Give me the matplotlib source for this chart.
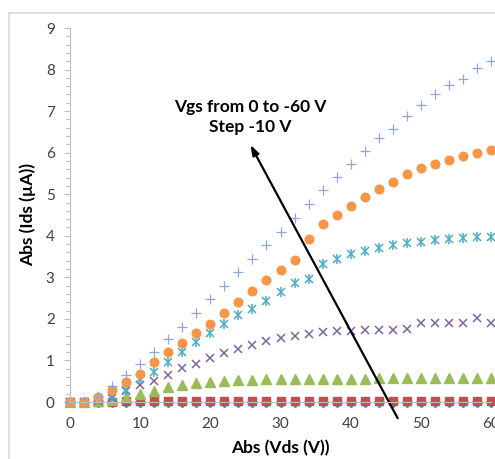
import numpy as np
import matplotlib
matplotlib.use('Agg')
import matplotlib.pyplot as plt
from matplotlib.lines import Line2D
from matplotlib.ticker import MultipleLocator

plt.rcParams['font.family'] = ['Lato', 'DejaVu Sans']

vds = np.arange(0, 61, 2)  # |Vds| in V

# |Ids| in uA, one list per gate voltage
ids_0 = [0.0] * 31
ids_10 = [0, 0, 0, 0.01, 0.02, 0.02, 0.02, 0.02, 0.02, 0.02, 0.02, 0.02, 0.02, 0.02, 0.02, 0.02,
          0.02, 0.02, 0.02, 0.02, 0.02, 0.02, 0.02, 0.02, 0.03, 0.03, 0.03, 0.03, 0.03, 0.03, 0.03]
ids_20 = [0, 0, 0.02, 0.05, 0.11, 0.20, 0.27, 0.37, 0.41, 0.45, 0.49, 0.51, 0.53, 0.54, 0.55, 0.55,
          0.55, 0.56, 0.56, 0.56, 0.56, 0.56, 0.57, 0.57, 0.57, 0.57, 0.57, 0.58, 0.58, 0.58, 0.58]
ids_30 = [0, 0, 0.02, 0.10, 0.27, 0.41, 0.51, 0.65, 0.81, 0.91, 1.07, 1.17, 1.28, 1.37, 1.47, 1.55,
          1.60, 1.64, 1.68, 1.70, 1.72, 1.74, 1.74, 1.74, 1.75, 1.89, 1.89, 1.89, 1.89, 2.01, 1.89]
ids_40 = [0, 0, 0.05, 0.15, 0.30, 0.55, 0.73, 0.96, 1.20, 1.45, 1.65, 1.88, 2.09, 2.24, 2.43, 2.65,
          2.87, 2.96, 3.31, 3.43, 3.55, 3.63, 3.70, 3.78, 3.82, 3.86, 3.90, 3.92, 3.94, 3.98, 3.98]
ids_50 = [0, 0, 0.12, 0.29, 0.47, 0.67, 0.97, 1.21, 1.43, 1.65, 1.88, 2.13, 2.41, 2.66, 2.93, 3.17,
          3.42, 3.92, 4.28, 4.49, 4.72, 4.93, 5.12, 5.30, 5.48, 5.62, 5.73, 5.82, 5.91, 5.98, 6.06]
ids_60 = [0, 0, 0.15, 0.38, 0.65, 0.91, 1.20, 1.52, 1.81, 2.13, 2.47, 2.79, 3.12, 3.45, 3.78, 4.09,
          4.42, 4.76, 5.09, 5.42, 5.73, 6.05, 6.35, 6.57, 6.88, 7.14, 7.40, 7.62, 7.78, 8.04, 8.21]

fig = plt.figure(figsize=(4.95, 4.59), dpi=100)
ax = fig.add_axes([70 / 495, 57 / 459, 421 / 495, 374 / 459])

kw = dict(ls='none', clip_on=False)
ax.plot(vds, ids_0, marker='D', ms=5, color='#4f81bd', **kw)
ax.plot(vds, ids_10, marker='s', ms=5.5, color='#c0504d', **kw)
ax.plot(vds, ids_20, marker='^', ms=6.5, color='#9bbb59', **kw)
ax.plot(vds, ids_30, marker='x', ms=6, mew=1.1, color='#8064a2', **kw)
ax.plot(vds, ids_40, marker='x', ms=6, mew=1.1, color='#4bacc6', **kw)
ax.plot(vds, ids_40, marker='|', ms=7.5, mew=1.1, color='#4bacc6', **kw)
ax.plot(vds, ids_50, marker='o', ms=6.2, color='#f79646', **kw)
ax.plot(vds, ids_60, marker='+', ms=6.5, mew=0.9, color='#8fa7d6', **kw)

ax.set_xlim(0, 60)
ax.set_ylim(0, 9)
ax.xaxis.set_major_locator(MultipleLocator(10))
ax.yaxis.set_major_locator(MultipleLocator(1))
ax.yaxis.set_minor_locator(MultipleLocator(0.2))

for s in ['top', 'right']:
    ax.spines[s].set_visible(False)
ax.spines['left'].set_color('#bfbfbf')
ax.spines['bottom'].set_color('#bfbfbf')
ax.spines['bottom'].set_zorder(5)
ax.spines['left'].set_linewidth(0.8)
ax.spines['bottom'].set_linewidth(0.8)

ax.tick_params(axis='y', which='major', length=4, width=0.8, color='#bfbfbf',
               labelsize=11, labelcolor='#404040', pad=7)
ax.tick_params(axis='y', which='minor', length=3, width=0.8, color='#bfbfbf')
ax.tick_params(axis='x', which='major', length=0, labelsize=11, labelcolor='#404040', pad=11)

ax.set_xlabel('Abs (Vds (V))', fontsize=12.5, fontweight='bold', labelpad=6)
ax.set_ylabel('Abs (Ids (µA))', fontsize=12.5, fontweight='bold', labelpad=7)

ax.annotate('', xy=(25.7, 6.19), xytext=(46.7, -0.39), annotation_clip=False,
            arrowprops=dict(arrowstyle='-|>,head_length=0.6,head_width=0.2',
                            color='black', lw=1.6, shrinkA=0, shrinkB=0))
ax.text(25.7, 6.85, 'Vgs from 0 to -60 V\nStep -10 V', ha='center', va='center',
        fontsize=12.5, fontweight='bold', linespacing=1.3)

# chart area border
fig.add_artist(Line2D([9 / 495, 9 / 495], [0, 1 - 13 / 459], transform=fig.transFigure,
                      color='#d9d9d9', lw=1.2))
fig.add_artist(Line2D([9 / 495, 1], [1 - 13 / 459, 1 - 13 / 459], transform=fig.transFigure,
                      color='#d9d9d9', lw=1.2))

fig.savefig('out.png', dpi=100)
